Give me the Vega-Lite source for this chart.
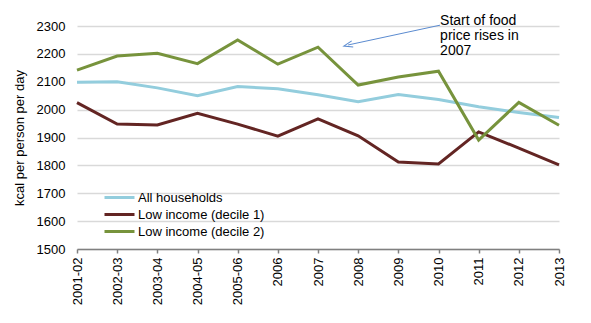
{
  "$schema": "https://vega.github.io/schema/vega-lite/v6.json",
  "width": 482,
  "height": 223,
  "autosize": {"type": "none"},
  "padding": {"left": 77, "top": 26, "right": 32, "bottom": 74},
  "background": "white",
  "config": {
    "view": {"stroke": null},
    "font": "Liberation Sans",
    "axis": {"labelFont": "Liberation Sans", "titleFont": "Liberation Sans"}
  },
  "datasets": {
    "series": [
      {"year": "2001-02", "group": "All households", "kcal": 2098},
      {"year": "2002-03", "group": "All households", "kcal": 2100},
      {"year": "2003-04", "group": "All households", "kcal": 2078},
      {"year": "2004-05", "group": "All households", "kcal": 2050},
      {"year": "2005-06", "group": "All households", "kcal": 2083},
      {"year": "2006", "group": "All households", "kcal": 2075},
      {"year": "2007", "group": "All households", "kcal": 2053},
      {"year": "2008", "group": "All households", "kcal": 2028},
      {"year": "2009", "group": "All households", "kcal": 2054},
      {"year": "2010", "group": "All households", "kcal": 2036},
      {"year": "2011", "group": "All households", "kcal": 2010},
      {"year": "2012", "group": "All households", "kcal": 1990},
      {"year": "2013", "group": "All households", "kcal": 1972},
      {"year": "2001-02", "group": "Low income (decile 1)", "kcal": 2025},
      {"year": "2002-03", "group": "Low income (decile 1)", "kcal": 1948},
      {"year": "2003-04", "group": "Low income (decile 1)", "kcal": 1945},
      {"year": "2004-05", "group": "Low income (decile 1)", "kcal": 1987},
      {"year": "2005-06", "group": "Low income (decile 1)", "kcal": 1948},
      {"year": "2006", "group": "Low income (decile 1)", "kcal": 1905},
      {"year": "2007", "group": "Low income (decile 1)", "kcal": 1967},
      {"year": "2008", "group": "Low income (decile 1)", "kcal": 1906},
      {"year": "2009", "group": "Low income (decile 1)", "kcal": 1812},
      {"year": "2010", "group": "Low income (decile 1)", "kcal": 1805},
      {"year": "2011", "group": "Low income (decile 1)", "kcal": 1920},
      {"year": "2012", "group": "Low income (decile 1)", "kcal": 1862},
      {"year": "2013", "group": "Low income (decile 1)", "kcal": 1802},
      {"year": "2001-02", "group": "Low income (decile 2)", "kcal": 2142},
      {"year": "2002-03", "group": "Low income (decile 2)", "kcal": 2192},
      {"year": "2003-04", "group": "Low income (decile 2)", "kcal": 2202},
      {"year": "2004-05", "group": "Low income (decile 2)", "kcal": 2165},
      {"year": "2005-06", "group": "Low income (decile 2)", "kcal": 2250},
      {"year": "2006", "group": "Low income (decile 2)", "kcal": 2163},
      {"year": "2007", "group": "Low income (decile 2)", "kcal": 2224},
      {"year": "2008", "group": "Low income (decile 2)", "kcal": 2088},
      {"year": "2009", "group": "Low income (decile 2)", "kcal": 2117},
      {"year": "2010", "group": "Low income (decile 2)", "kcal": 2138},
      {"year": "2011", "group": "Low income (decile 2)", "kcal": 1891},
      {"year": "2012", "group": "Low income (decile 2)", "kcal": 2026},
      {"year": "2013", "group": "Low income (decile 2)", "kcal": 1944}
    ],
    "note": [
      {"i": 9.04, "i2": 6.75, "v": 2343, "v0": 2303, "v2": 2232, "label": "Start of food\nprice rises in\n2007"}
    ]
  },
  "layer": [
    {
      "data": {"name": "series"},
      "mark": {"type": "line", "strokeWidth": 3},
      "encoding": {
        "x": {
          "field": "year", "type": "ordinal", "sort": null,
          "scale": {"type": "point", "padding": 0},
          "axis": {
            "title": null, "labelAngle": -90, "labelFontSize": 13, "labelColor": "#000000",
            "labelPadding": 4, "tickSize": 4, "tickColor": "#808080", "domainColor": "#808080",
            "domainWidth": 1.5, "tickWidth": 1.5, "grid": false
          }
        },
        "y": {
          "field": "kcal", "type": "quantitative",
          "scale": {"domain": [1500, 2300], "nice": false, "zero": false},
          "axis": {
            "title": "kcal per person per day", "titleFontSize": 13, "titleFontWeight": "normal",
            "titleColor": "#000000", "titlePadding": 10, "format": "d",
            "labelFontSize": 13, "labelColor": "#000000", "labelPadding": 12, "labelOverlap": false, "labelFlush": false,
            "values": [1500, 1600, 1700, 1800, 1900, 2000, 2100, 2200, 2300],
            "ticks": false, "domain": false, "grid": true, "gridColor": "#d9d9d9", "gridWidth": 1.5
          }
        },
        "color": {
          "field": "group", "type": "nominal",
          "scale": {
            "domain": ["All households", "Low income (decile 1)", "Low income (decile 2)"],
            "range": ["#93cddd", "#632523", "#77933c"]
          },
          "legend": {
            "title": null, "orient": "none", "legendX": 26, "legendY": 164,
            "symbolType": "stroke", "symbolSize": 900, "symbolStrokeWidth": 3, "clipHeight": 15,
            "labelFontSize": 13, "labelColor": "#000000", "labelOffset": 2, "rowPadding": 2
          }
        }
      }
    },
    {
      "data": {"name": "note"},
      "mark": {"type": "rule", "color": "#5b8bd0", "strokeWidth": 1},
      "encoding": {
        "x": {"field": "i", "type": "quantitative", "scale": {"domain": [0, 12], "nice": false, "zero": false}, "axis": null},
        "x2": {"field": "i2"},
        "y": {
          "field": "v0", "type": "quantitative",
          "axis": {
            "title": "kcal per person per day", "titleFontSize": 13, "titleFontWeight": "normal",
            "titleColor": "#000000", "titlePadding": 10, "format": "d",
            "labelFontSize": 13, "labelColor": "#000000", "labelPadding": 12, "labelOverlap": false, "labelFlush": false,
            "values": [1500, 1600, 1700, 1800, 1900, 2000, 2100, 2200, 2300],
            "ticks": false, "domain": false, "grid": true, "gridColor": "#d9d9d9", "gridWidth": 1.5
          }
        },
        "y2": {"field": "v2"}
      }
    },
    {
      "data": {"name": "note"},
      "mark": {"type": "point", "shape": "M 1 -0.7 L -1 0 L 1 0.7", "filled": false, "color": "#5b8bd0", "strokeWidth": 1, "size": 80, "angle": -14, "opacity": 1},
      "encoding": {
        "x": {"field": "i2", "type": "quantitative", "scale": {"domain": [0, 12], "nice": false, "zero": false}, "axis": null},
        "y": {
          "field": "v2", "type": "quantitative",
          "axis": {
            "title": "kcal per person per day", "titleFontSize": 13, "titleFontWeight": "normal",
            "titleColor": "#000000", "titlePadding": 10, "format": "d",
            "labelFontSize": 13, "labelColor": "#000000", "labelPadding": 12, "labelOverlap": false, "labelFlush": false,
            "values": [1500, 1600, 1700, 1800, 1900, 2000, 2100, 2200, 2300],
            "ticks": false, "domain": false, "grid": true, "gridColor": "#d9d9d9", "gridWidth": 1.5
          }
        }
      }
    },
    {
      "data": {"name": "note"},
      "mark": {"type": "text", "align": "left", "baseline": "top", "fontSize": 14, "lineHeight": 15, "lineBreak": "\n", "color": "#000000"},
      "encoding": {
        "x": {"field": "i", "type": "quantitative", "scale": {"domain": [0, 12], "nice": false, "zero": false}, "axis": null},
        "y": {
          "field": "v", "type": "quantitative",
          "axis": {
            "title": "kcal per person per day", "titleFontSize": 13, "titleFontWeight": "normal",
            "titleColor": "#000000", "titlePadding": 10, "format": "d",
            "labelFontSize": 13, "labelColor": "#000000", "labelPadding": 12, "labelOverlap": false, "labelFlush": false,
            "values": [1500, 1600, 1700, 1800, 1900, 2000, 2100, 2200, 2300],
            "ticks": false, "domain": false, "grid": true, "gridColor": "#d9d9d9", "gridWidth": 1.5
          }
        },
        "text": {"field": "label"}
      }
    }
  ],
  "resolve": {"scale": {"x": "independent"}}
}
